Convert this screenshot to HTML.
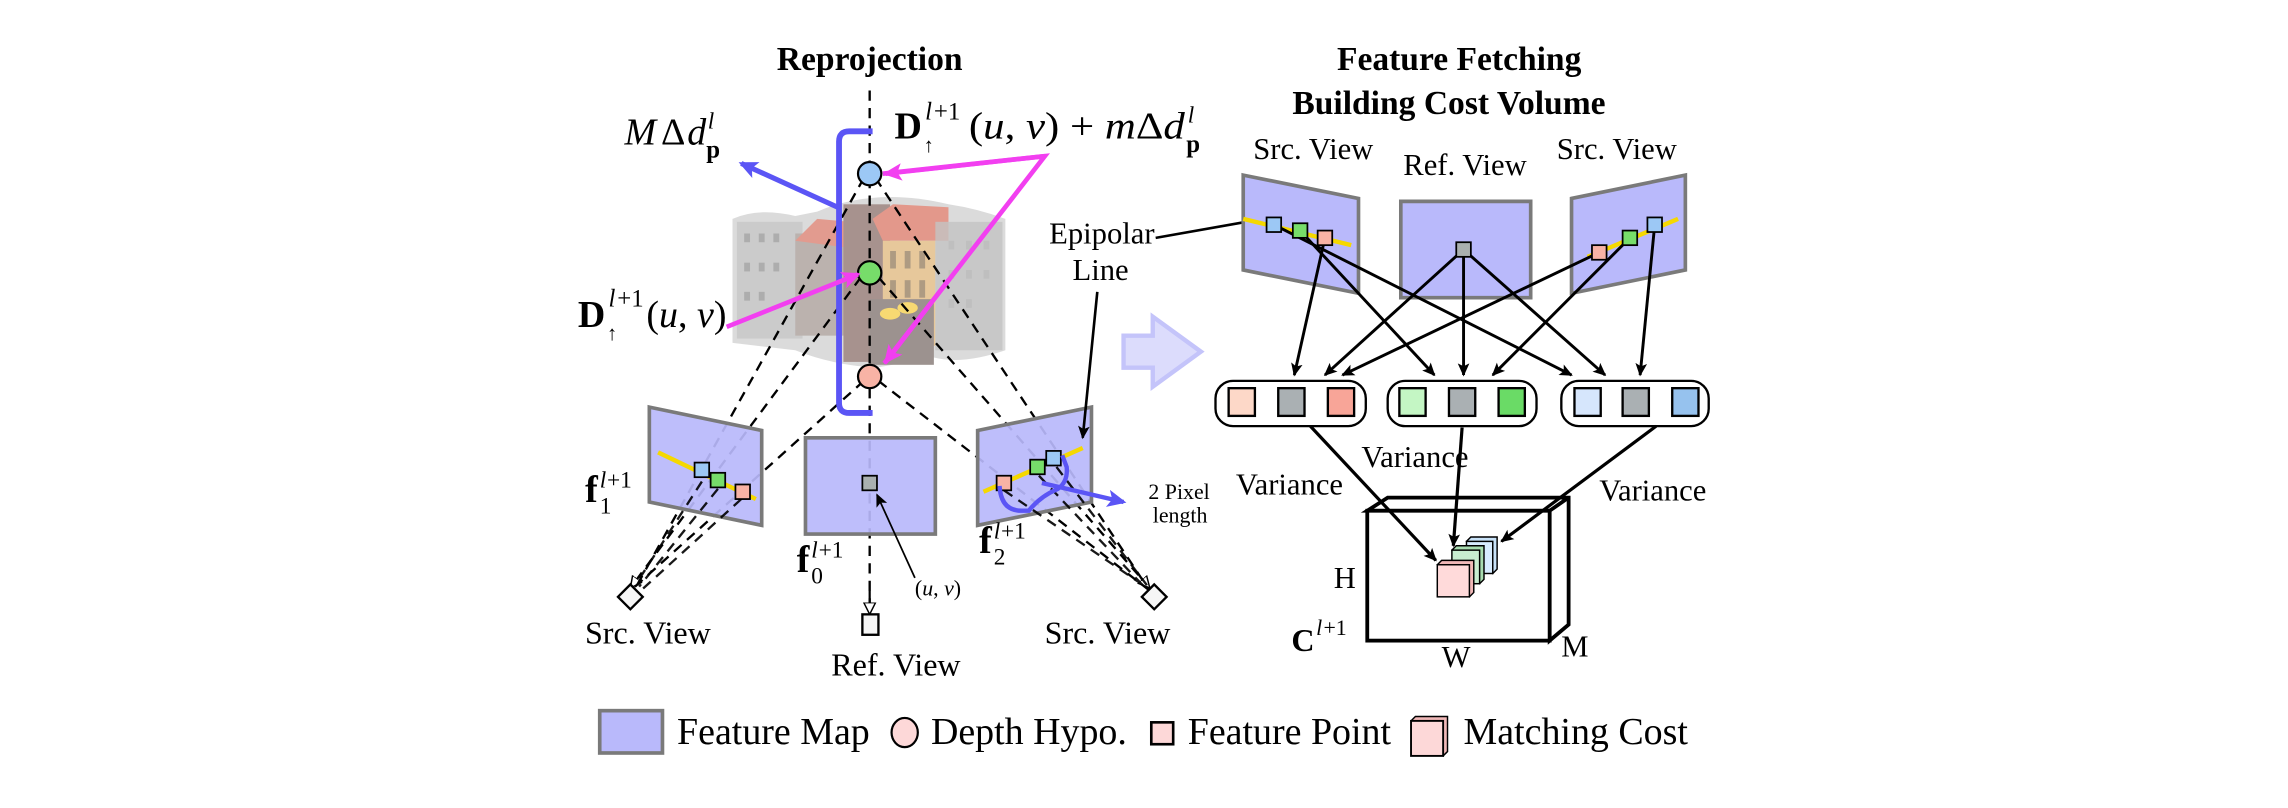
<!DOCTYPE html>
<html><head><meta charset="utf-8"><style>
html,body{margin:0;padding:0;background:#fff;}
svg{display:block;}
text{font-family:"Liberation Serif",serif;fill:#000;}
.it{font-style:italic;}
</style></head><body>
<svg width="2288" height="808" viewBox="0 0 1568 553.7" preserveAspectRatio="none" xmlns="http://www.w3.org/2000/svg">
<defs>
<marker id="ak" markerWidth="10" markerHeight="10" refX="8" refY="5" orient="auto" markerUnits="userSpaceOnUse"><path d="M0,1 L9,5 L0,9 L2,5z" fill="#000"/></marker>
<marker id="am" markerWidth="14" markerHeight="14" refX="11" refY="7" orient="auto" markerUnits="userSpaceOnUse"><path d="M0,1 L13,7 L0,13 L3,7z" fill="#f23ff0"/></marker>
<marker id="ab" markerWidth="14" markerHeight="14" refX="11" refY="7" orient="auto" markerUnits="userSpaceOnUse"><path d="M0,1 L13,7 L0,13 L3,7z" fill="#5b55f5"/></marker>
<marker id="ao" markerWidth="10" markerHeight="10" refX="8" refY="5" orient="auto" markerUnits="userSpaceOnUse"><path d="M0,1 L8,5 L0,9z" fill="#fff" stroke="#000" stroke-width="1"/></marker>
</defs>
<rect width="1568" height="553.7" fill="#fff"/>

<text x="596" y="48" font-size="23" font-weight="bold" text-anchor="middle">Reprojection</text>
<text x="1000" y="48" font-size="23" font-weight="bold" text-anchor="middle">Feature Fetching</text>
<text x="993" y="78" font-size="23" font-weight="bold" text-anchor="middle">Building Cost Volume</text>

<!-- point cloud -->
<g opacity="0.6">
<path d="M502,150 Q520,142 545,148 L560,145 Q600,128 650,140 Q670,143 689,150 L689,240 Q660,250 640,245 L600,252 Q570,250 545,240 L502,235z" fill="#c4c4c4"/>
<rect x="505" y="152" width="45" height="80" fill="#a9a9a9"/>
<g fill="#777"><rect x="510" y="160" width="4" height="6"/><rect x="520" y="160" width="4" height="6"/><rect x="530" y="160" width="4" height="6"/><rect x="510" y="180" width="4" height="6"/><rect x="520" y="180" width="4" height="6"/><rect x="530" y="180" width="4" height="6"/><rect x="510" y="200" width="4" height="6"/><rect x="520" y="200" width="4" height="6"/><rect x="650" y="165" width="4" height="6"/><rect x="662" y="165" width="4" height="6"/><rect x="674" y="165" width="4" height="6"/><rect x="650" y="185" width="4" height="6"/><rect x="662" y="185" width="4" height="6"/><rect x="674" y="185" width="4" height="6"/><rect x="650" y="205" width="4" height="6"/><rect x="662" y="205" width="4" height="6"/></g>
<rect x="545" y="160" width="38" height="70" fill="#8f7f7a"/>
<path d="M545,165 L560,150 L582,152 L583,170z" fill="#d05a45"/>
<rect x="578" y="140" width="32" height="108" fill="#6e4a44"/>
<path d="M598,150 L612,140 L650,142 L650,165 L605,165z" fill="#d2543f"/>
<rect x="605" y="165" width="36" height="72" fill="#d8a55a"/>
<g fill="#7a5a30"><rect x="610" y="172" width="4" height="12"/><rect x="620" y="172" width="4" height="12"/><rect x="630" y="172" width="4" height="12"/><rect x="610" y="192" width="4" height="12"/><rect x="620" y="192" width="4" height="12"/><rect x="630" y="192" width="4" height="12"/></g>
<rect x="641" y="152" width="46" height="88" fill="#9d9d9d" opacity="0.8"/>
<rect x="596" y="205" width="44" height="45" fill="#5b4a46"/>
<ellipse cx="610" cy="215" rx="7" ry="4" fill="#f2c015"/>
<ellipse cx="622" cy="211" rx="7" ry="4" fill="#f2c015"/>
</g>

<g stroke="#000" stroke-width="1.6" stroke-dasharray="7,5" fill="none">
<line x1="596" y1="62" x2="596" y2="420"/>
<line x1="590" y1="190" x2="432" y2="403" marker-end="url(#ao)"/>
<line x1="592" y1="261" x2="433" y2="404"/>
<line x1="592" y1="122" x2="436" y2="402"/>
<line x1="602" y1="190" x2="788" y2="403" marker-end="url(#ao)"/>
<line x1="602" y1="261" x2="787" y2="404"/>
<line x1="600" y1="122" x2="786" y2="402"/>
</g>
<line x1="596" y1="405" x2="596" y2="421" stroke="#000" stroke-width="1.5" marker-end="url(#ao)"/>

<path d="M598,90 L582,90 Q575,90 575,97 L575,276 Q575,283 582,283 L598,283" stroke="#5b55f5" stroke-width="4" fill="none"/>
<line x1="574" y1="142" x2="508" y2="112" stroke="#5b55f5" stroke-width="3.5" marker-end="url(#ab)"/>

<circle cx="596" cy="119" r="8" fill="#9cc8f5" stroke="#000" stroke-width="1.5"/>
<circle cx="596" cy="187" r="8" fill="#77dd6a" stroke="#000" stroke-width="1.5"/>
<circle cx="596" cy="258" r="8" fill="#f8b3a5" stroke="#000" stroke-width="1.5"/>

<g stroke="#f23ff0" stroke-width="3.2" fill="none">
<polyline points="605,119 716,107 606,249"/>
<line x1="716" y1="107" x2="607" y2="119" marker-end="url(#am)"/>
<line x1="650" y1="192" x2="607" y2="248" marker-end="url(#am)"/>
<line x1="498" y1="224" x2="588" y2="188" marker-end="url(#am)"/>
</g>

<text x="428" y="99" font-size="26" class="it">M</text><text x="453" y="99" font-size="26">Δ</text><text x="471" y="99" font-size="26" class="it">d</text><text x="485" y="88" font-size="16" class="it">l</text><text x="484" y="108" font-size="17" font-weight="bold">p</text>
<text x="613" y="95" font-size="26" font-weight="bold">D</text><text x="634" y="82" font-size="17" class="it">l</text><text x="640" y="82" font-size="17">+1</text><text x="633" y="104" font-size="14">↑</text>
<text x="664" y="95" font-size="26" textLength="148" lengthAdjust="spacingAndGlyphs">(<tspan class="it">u</tspan>, <tspan class="it">v</tspan>) + <tspan class="it">m</tspan>Δ<tspan class="it">d</tspan></text><text x="814" y="84" font-size="16" class="it">l</text><text x="813" y="104" font-size="17" font-weight="bold">p</text>
<text x="396" y="224" font-size="26" font-weight="bold">D</text><text x="417" y="210" font-size="17" class="it">l</text><text x="423" y="210" font-size="17">+1</text><text x="416" y="233" font-size="14">↑</text>
<text x="443" y="224" font-size="26">(<tspan class="it">u</tspan>, <tspan class="it">v</tspan>)</text>

<polygon points="445,279 522,295 522,360 445,344" fill="#b9b9fb" stroke="#7a7a7a" stroke-width="2.5" fill-opacity="0.92"/>
<polygon points="552,300 641,300 641,366 552,366" fill="#b9b9fb" stroke="#7a7a7a" stroke-width="2.5" fill-opacity="0.92"/>
<polygon points="670,295 748,279 748,344 670,360" fill="#b9b9fb" stroke="#7a7a7a" stroke-width="2.5" fill-opacity="0.92"/>
<g stroke="#000" stroke-width="1.6" stroke-dasharray="7,5" fill="none" opacity="0.9">
<line x1="481" y1="330" x2="436" y2="400"/><line x1="492" y1="335" x2="438" y2="402"/><line x1="508" y1="342" x2="440" y2="404"/>
<line x1="688" y1="336" x2="782" y2="400"/><line x1="712" y1="326" x2="784" y2="402"/><line x1="724" y1="320" x2="786" y2="401"/>
</g>
<line x1="451" y1="310" x2="518" y2="342" stroke="#f5d800" stroke-width="3"/>
<line x1="674" y1="337" x2="742" y2="307" stroke="#f5d800" stroke-width="3"/>
<g stroke="#000" stroke-width="1.2">
<rect x="476" y="317" width="10" height="10" fill="#9cc8f5"/>
<rect x="487" y="324" width="10" height="10" fill="#77dd6a"/>
<rect x="504" y="332" width="10" height="10" fill="#f8b3a5"/>
<rect x="591" y="326" width="10" height="10" fill="#aab0b0"/>
<rect x="683" y="326" width="10" height="10" fill="#f8b3a5"/>
<rect x="706" y="315" width="10" height="10" fill="#77dd6a"/>
<rect x="717" y="309" width="10" height="10" fill="#9cc8f5"/>
</g>
<path d="M685,333 Q686,350 700,350 L705,350 Q713,340 725,335 Q732,330 731,320 L728,312" stroke="#5b55f5" stroke-width="3" fill="none"/>
<line x1="714" y1="331" x2="770" y2="344" stroke="#5b55f5" stroke-width="3" marker-end="url(#ab)"/>
<text x="787" y="342" font-size="15">2 Pixel</text>
<text x="790" y="358" font-size="15">length</text>
<line x1="627" y1="396" x2="601" y2="339" stroke="#000" stroke-width="1.2" marker-end="url(#ak)"/>
<text x="627" y="408" font-size="15">(<tspan class="it">u</tspan>, <tspan class="it">v</tspan>)</text>

<text x="401" y="344" font-size="26" font-weight="bold">f</text><text x="411" y="334" font-size="16" class="it">l</text><text x="416" y="334" font-size="16">+1</text><text x="411" y="352" font-size="16">1</text>
<text x="546" y="392" font-size="26" font-weight="bold">f</text><text x="556" y="382" font-size="16" class="it">l</text><text x="561" y="382" font-size="16">+1</text><text x="556" y="400" font-size="16">0</text>
<text x="671" y="379" font-size="26" font-weight="bold">f</text><text x="681" y="369" font-size="16" class="it">l</text><text x="686" y="369" font-size="16">+1</text><text x="681" y="387" font-size="16">2</text>

<g fill="#f6f6f6" stroke="#000" stroke-width="1.6">
<rect x="-6" y="-6" width="12" height="12" transform="translate(432,409) rotate(45)"/>
<rect x="591" y="421" width="11" height="14"/>
<rect x="-6" y="-6" width="12" height="12" transform="translate(791,409) rotate(45)"/>
</g>
<text x="444" y="441" font-size="22" text-anchor="middle">Src. View</text>
<text x="614" y="463" font-size="22" text-anchor="middle">Ref. View</text>
<text x="759" y="441" font-size="22" text-anchor="middle">Src. View</text>

<text x="719" y="167" font-size="21">Epipolar</text>
<text x="735" y="192" font-size="21">Line</text>
<line x1="752" y1="200" x2="742" y2="300" stroke="#000" stroke-width="1.8" marker-end="url(#ak)"/>
<line x1="792" y1="163" x2="860" y2="151" stroke="#000" stroke-width="1.8" marker-end="url(#ak)"/>

<path d="M770,230 L790,230 L790,217 L823,241 L790,265 L790,252 L770,252z" fill="#dcdcfc" stroke="#c4c4fa" stroke-width="3"/>

<text x="900" y="109" font-size="21" text-anchor="middle">Src. View</text>
<text x="1004" y="120" font-size="21" text-anchor="middle">Ref. View</text>
<text x="1108" y="109" font-size="21" text-anchor="middle">Src. View</text>
<polygon points="852,120 931,136 931,201 852,185" fill="#b9b9fb" stroke="#7a7a7a" stroke-width="2.5"/>
<polygon points="960,138 1049,138 1049,204 960,204" fill="#b9b9fb" stroke="#7a7a7a" stroke-width="2.5"/>
<polygon points="1077,136 1155,120 1155,185 1077,201" fill="#b9b9fb" stroke="#7a7a7a" stroke-width="2.5"/>
<line x1="852" y1="150" x2="926" y2="168" stroke="#f5d800" stroke-width="3"/>
<line x1="1088" y1="176" x2="1150" y2="150" stroke="#f5d800" stroke-width="3"/>

<g stroke="#000" stroke-width="2" marker-end="url(#ak)">
<line x1="908" y1="163" x2="887" y2="257"/>
<line x1="891" y1="158" x2="983" y2="257"/>
<line x1="873" y1="154" x2="1077" y2="257"/>
<line x1="1003" y1="171" x2="908" y2="257"/>
<line x1="1003" y1="171" x2="1003" y2="257"/>
<line x1="1003" y1="171" x2="1100" y2="257"/>
<line x1="1096" y1="173" x2="920" y2="257"/>
<line x1="1117" y1="163" x2="1023" y2="257"/>
<line x1="1134" y1="154" x2="1124" y2="257"/>
</g>
<g stroke="#000" stroke-width="1.2">
<rect x="868" y="149" width="10" height="10" fill="#9cc8f5"/>
<rect x="886" y="153" width="10" height="10" fill="#77dd6a"/>
<rect x="903" y="158" width="10" height="10" fill="#f8b3a5"/>
<rect x="998" y="166" width="10" height="10" fill="#aab0b0"/>
<rect x="1091" y="168" width="10" height="10" fill="#f8b3a5"/>
<rect x="1112" y="158" width="10" height="10" fill="#77dd6a"/>
<rect x="1129" y="149" width="10" height="10" fill="#9cc8f5"/>
</g>

<g stroke="#000" stroke-width="1.6">
<rect x="833" y="261" width="103" height="31" rx="12" fill="#fff"/>
<rect x="951" y="261" width="102" height="31" rx="12" fill="#fff"/>
<rect x="1070" y="261" width="101" height="31" rx="12" fill="#fff"/>
<rect x="842" y="266" width="18" height="19" fill="#fdd8c8"/>
<rect x="876" y="266" width="18" height="19" fill="#aab0b3"/>
<rect x="910" y="266" width="18" height="19" fill="#f8a598"/>
<rect x="959" y="266" width="18" height="19" fill="#c4f6c4"/>
<rect x="993" y="266" width="18" height="19" fill="#aab0b3"/>
<rect x="1027" y="266" width="18" height="19" fill="#6adb66"/>
<rect x="1079" y="266" width="18" height="19" fill="#d6e6fc"/>
<rect x="1112" y="266" width="18" height="19" fill="#aab0b3"/>
<rect x="1146" y="266" width="18" height="19" fill="#96c2ee"/>
</g>

<g stroke="#000" stroke-width="2.6" fill="none">
<polygon points="937,350 951,341 1075,341 1075,428 1062,439 1062,350"/>
<line x1="1062" y1="350" x2="1075" y2="341"/>
<rect x="937" y="350" width="125" height="89" fill="#fff"/>
</g>
<g stroke="#000" stroke-width="1">
<polygon points="1005,371 1008,368 1026,368 1026,390 1023,393" fill="#c8e2f8"/>
<rect x="1005" y="371" width="18" height="22" fill="#d8ecff"/>
<polygon points="995,377 998,374 1017,374 1017,397 1014,400" fill="#a8dcb0"/>
<rect x="995" y="377" width="19" height="23" fill="#c8ecd0"/>
<polygon points="985,387 988,384 1010,384 1010,406 1007,409" fill="#f0b8b8"/>
<rect x="985" y="387" width="22" height="22" fill="#ffdada"/>
</g>
<g stroke="#000" stroke-width="2.2" marker-end="url(#ak)">
<line x1="898" y1="292" x2="984" y2="384"/>
<line x1="1002" y1="293" x2="996" y2="374"/>
<line x1="1135" y1="292" x2="1029" y2="371"/>
</g>
<text x="847" y="339" font-size="21">Variance</text>
<text x="933" y="320" font-size="21">Variance</text>
<text x="1096" y="343" font-size="21">Variance</text>
<text x="914" y="403" font-size="21">H</text>
<text x="885" y="446" font-size="22" font-weight="bold">C</text><text x="902" y="435" font-size="15" class="it">l</text><text x="907" y="435" font-size="15">+1</text>
<text x="988" y="457" font-size="21">W</text>
<text x="1070" y="450" font-size="21">M</text>

<rect x="411" y="487" width="43" height="29" fill="#b9b9fb" stroke="#7a7a7a" stroke-width="2.5"/>
<text x="464" y="510" font-size="26">Feature Map</text>
<ellipse cx="620" cy="502" rx="9" ry="10" fill="#fdd8d8" stroke="#000" stroke-width="1.5"/>
<text x="638" y="510" font-size="26">Depth Hypo.</text>
<rect x="789" y="495" width="15" height="15" fill="#fdd8d8" stroke="#000" stroke-width="1.8"/>
<text x="814" y="510" font-size="26">Feature Point</text>
<polygon points="967,494 970,491 992,491 992,515 989,518" fill="#f0b8b8" stroke="#000" stroke-width="1"/>
<rect x="967" y="494" width="22" height="24" fill="#fdd8d8" stroke="#000" stroke-width="1.3"/>
<text x="1003" y="510" font-size="26">Matching Cost</text>
</svg>
</body></html>
